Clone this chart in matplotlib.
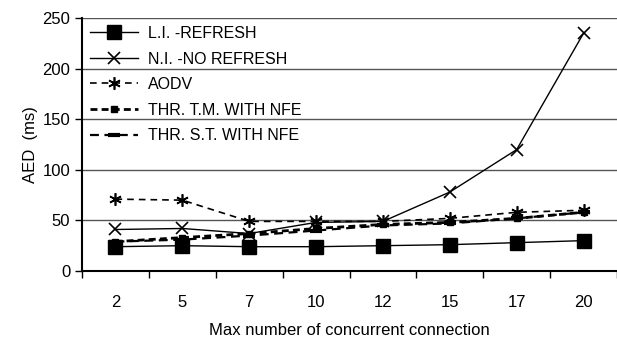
import numpy as np
import matplotlib.pyplot as plt

categories = ["2", "5", "7", "10", "12", "15", "17", "20"]
li_refresh = [24, 25, 24, 24, 25, 26, 28, 30]
ni_no_refresh = [41, 42, 37, 48, 49, 78, 120, 235]
aodv = [71, 70, 49, 49, 49, 52, 58, 60]
thr_tm = [29, 33, 37, 42, 46, 48, 52, 58]
thr_st = [29, 31, 35, 40, 45, 47, 52, 58]

plt.rcParams['font.family'] = ['Liberation Sans', 'DejaVu Sans']

fig = plt.figure(figsize=(6.17, 3.4), dpi=100)
ax = fig.add_axes([0.133, 0.203, 0.867, 0.744])
x = np.arange(len(categories))

ax.plot(x, li_refresh, 'k-', lw=1.0, marker='s', ms=10, label='L.I. -REFRESH')
ax.plot(x, ni_no_refresh, 'k-', lw=1.0, marker='x', ms=8, mew=1.2, label='N.I. -NO REFRESH')
ax.plot(x, aodv, 'k--', lw=1.2, dashes=(4, 3), marker=(6, 2, 0), ms=9, mew=1.2, label='AODV')
ax.plot(x, thr_tm, 'k--', lw=2.0, dashes=(2.5, 1.5), marker='s', ms=4, label='THR. T.M. WITH NFE')
ax.plot(x, thr_st, 'k--', lw=1.6, dashes=(4, 2.5), marker='_', ms=9, mew=3, label='THR. S.T. WITH NFE')

ax.set_xlim(-0.5, len(categories) - 0.5)
ax.set_ylim(0, 250)
ax.set_yticks(np.arange(0, 251, 50))
ax.set_xticks(x)
ax.set_xticklabels(categories)
ax.set_xticks(np.arange(-0.5, len(categories), 1), minor=True)
ax.tick_params(axis='x', which='major', length=0, pad=17, labelsize=12)
ax.tick_params(axis='x', which='minor', length=5, width=1)
ax.tick_params(axis='y', length=5, width=1, labelsize=12)
ax.yaxis.grid(True, color='#555555', lw=1)
ax.set_axisbelow(True)
for s in ['top', 'right']:
    ax.spines[s].set_visible(False)
ax.spines['left'].set_linewidth(1.5)
ax.spines['bottom'].set_linewidth(1.5)

ax.set_xlabel('Max number of concurrent connection', fontsize=12, labelpad=10)
ax.set_ylabel('AED  (ms)', fontsize=12, labelpad=3)

ax.legend(loc='upper left', frameon=False, fontsize=11.5, handlelength=3.0,
          handletextpad=0.6, borderaxespad=0.1, labelspacing=0.66,
          bbox_to_anchor=(0.0, 1.0))

fig.savefig('out.png', dpi=100)
